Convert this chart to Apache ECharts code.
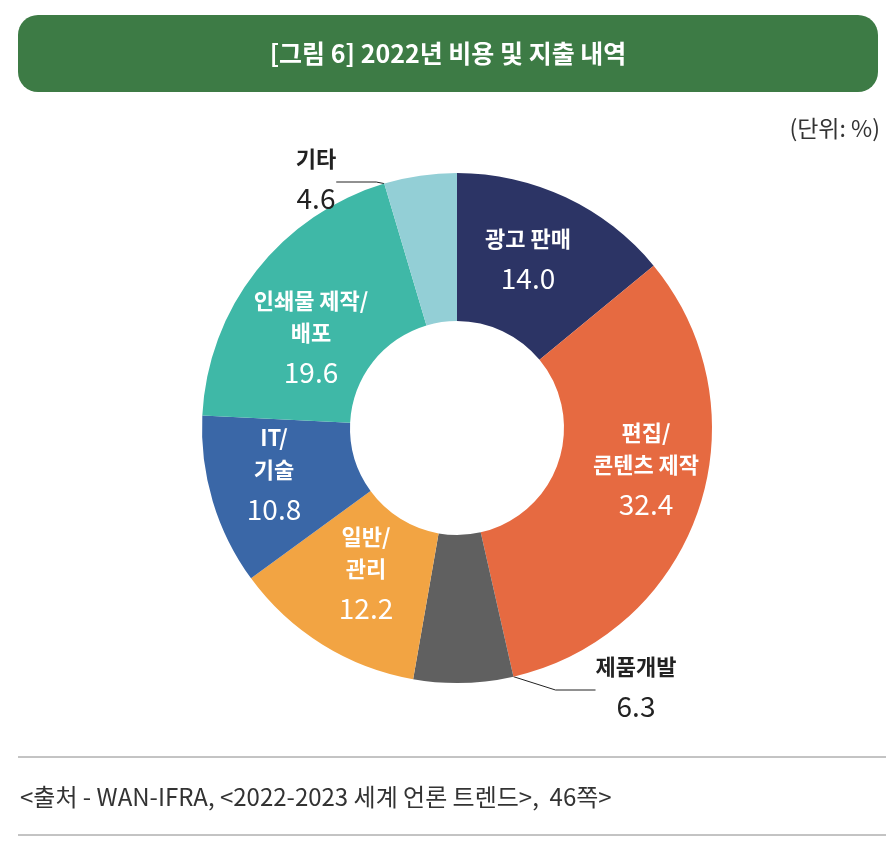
<!DOCTYPE html>
<html><head><meta charset="utf-8">
<script src="https://cdn.jsdelivr.net/npm/echarts@6/dist/echarts.min.js"></script>
<style>html,body{margin:0;padding:0;background:#fff}#c{width:896px;height:859px}</style>
</head><body><div id="c"></div>
<script>
const categories = ['광고 판매', '편집/\n콘텐츠 제작', '제품개발', '일반/\n관리', 'IT/\n기술', '인쇄물 제작/\n배포', '기타'];
const values = [14.0, 32.4, 6.3, 12.2, 10.8, 19.6, 4.6];
const colors = ['#2c3465', '#e66a41', '#606060', '#f2a443', '#3a67a7', '#3fb8a7', '#93cfd6'];
const outside = [false, false, true, false, false, false, true];
const labelPos = [[528,262],[646,472],[636,690],[366,576],[274,477],[311,340],[316,182]];
const F = '"Noto Sans CJK KR", "Noto Sans", sans-serif';
const chart = echarts.init(document.getElementById('c'));
chart.setOption({
  animation: false,
  graphic: [
    {type:'rect', shape:{x:18,y:15,width:860,height:77,r:20}, style:{fill:'#3d7b45'}},
    {type:'text', x:448, y:53, style:{text:'[그림 6] 2022년 비용 및 지출 내역', fill:'#fff', font:'bold 25px '+F, align:'center', verticalAlign:'middle'}},
    {type:'text', x:880, y:128, style:{text:'(단위: %)', fill:'#333', font:'23px '+F, align:'right', verticalAlign:'middle'}},
    {type:'line', shape:{x1:18,y1:757,x2:886,y2:757}, style:{stroke:'#888', lineWidth:1}},
    {type:'line', shape:{x1:18,y1:835,x2:886,y2:835}, style:{stroke:'#888', lineWidth:1}},
    {type:'text', x:20, y:797, style:{text:'<출처 - WAN-IFRA, <2022-2023 세계 언론 트렌드>,  46쪽>', fill:'#333', font:'24px '+F, verticalAlign:'middle'}}
  ],
  series: [{
    type:'pie', center:[457,428], radius:[107,255], startAngle:90, clockwise:true,
    data: categories.map((n,i)=>({
      name:n, value:values[i], itemStyle:{color:colors[i]},
      label: outside[i] ? {color:'#222', align:i===6?'right':'left'} : {},
      labelLine:{show:outside[i], lineStyle:{color:'#222', width:1}}
    })),
    label:{
      show:true, position:'inside', color:'#fff', fontFamily:F, lineHeight:34,
      formatter: p => '{n|'+p.name+'}\n{v|'+p.value.toFixed(1)+'}',
      rich:{n:{fontSize:22, fontWeight:'bold', lineHeight:32, fontFamily:F}, v:{fontSize:28, lineHeight:46, fontFamily:F}}
    },
    labelLine:{length:20, length2:40},
    labelLayout: p => ({x:labelPos[p.dataIndex][0], y:labelPos[p.dataIndex][1]})
  }]
});
</script></body></html>
